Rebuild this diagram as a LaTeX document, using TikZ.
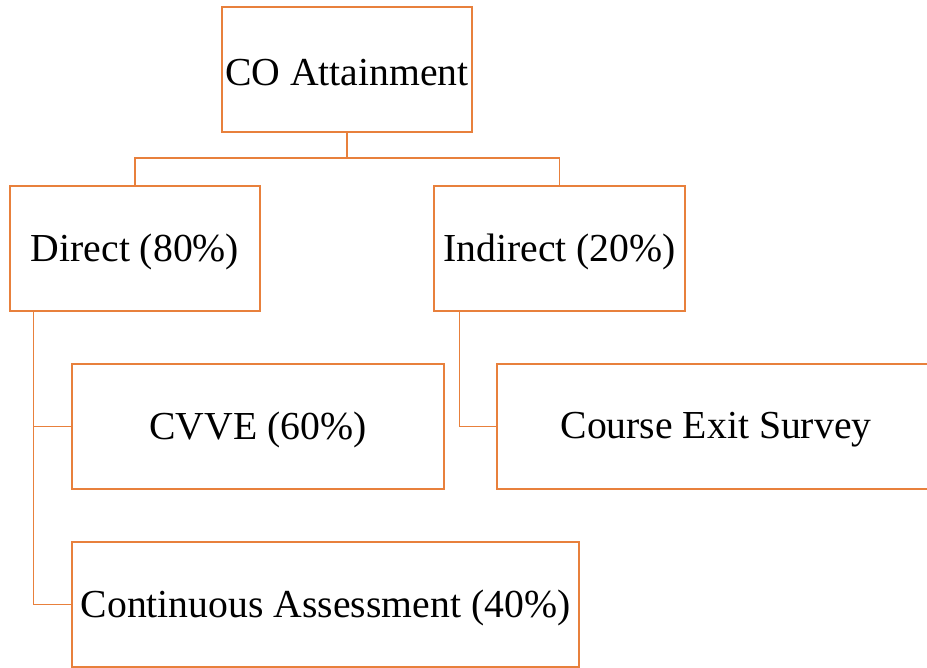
\documentclass[tikz,border=0pt]{standalone}
\usepackage{fontspec}
\setmainfont{Liberation Serif}
\usetikzlibrary{calc}
\definecolor{linkorange}{HTML}{E8803C}
\newcommand{\boxtext}[1]{\raisebox{-3pt}[\height][\depth]{#1}}
\begin{document}
\begin{tikzpicture}[x=1pt,y=-1pt,
  box/.style={draw=linkorange,line width=1.1pt,rectangle,inner sep=0pt,
    minimum height=125pt,font=\fontsize{39.7}{44}\selectfont,text=black},
  link/.style={draw=linkorange,line width=1.2pt}]
  \useasboundingbox (0,0) rectangle (927,668);
  \clip (0,0) rectangle (927,668);
  % boxes
  \node[box,minimum width=250pt] (co) at (347,69.5) {\boxtext{CO Attainment}};
  \node[box,minimum width=250pt] (direct) at (135,248.5) {\boxtext{Direct (80\%)}};
  \node[box,minimum width=251pt] (indirect) at (559.5,248.5) {\boxtext{Indirect (20\%)}};
  \node[box,minimum width=372pt] (cvve) at (258,426.5) {\boxtext{CVVE (60\%)}};
  \node[box,minimum width=438pt] (ces) at (716,426.5) {\boxtext{Course Exit Survey}};
  \node[box,minimum width=507pt] (ca) at (325.5,604.5) {\boxtext{Continuous Assessment (40\%)}};
  % top-level branching
  \coordinate (bus) at (347,158);
  \draw[link] (co.south) -- (bus);
  \draw[link] (bus) -| (direct.north);
  \draw[link] (bus) -| (indirect.north);
  % side spines
  \coordinate (dspine) at ($(direct.south west)+(24,0)$);
  \coordinate (ispine) at ($(indirect.south west)+(26,0)$);
  \draw[link] (dspine) |- (cvve.west);
  \draw[link] (dspine) |- (ca.west);
  \draw[link] (ispine) |- (ces.west);
\end{tikzpicture}
\end{document}
